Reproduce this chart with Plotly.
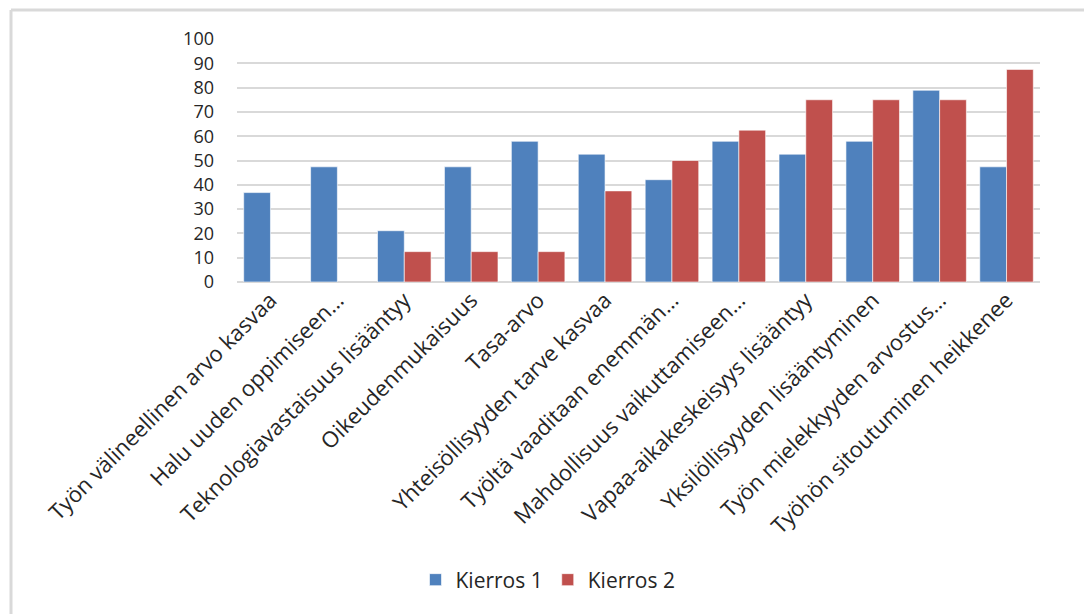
import plotly.graph_objects as go

categories = [
    "Työn välineellinen arvo kasvaa",
    "Halu uuden oppimiseen…",
    "Teknologiavastaisuus lisääntyy",
    "Oikeudenmukaisuus",
    "Tasa-arvo",
    "Yhteisöllisyyden tarve kasvaa",
    "Työltä vaaditaan enemmän…",
    "Mahdollisuus vaikuttamiseen…",
    "Vapaa-aikakeskeisyys lisääntyy",
    "Yksilöllisyyden lisääntyminen",
    "Työn mielekkyyden arvostus…",
    "Työhön sitoutuminen heikkenee",
]
kierros1 = [36.8, 47.4, 21.1, 47.4, 57.9, 52.6, 42.1, 57.9, 52.6, 57.9, 78.9, 47.4]
kierros2 = [None, None, 12.5, 12.5, 12.5, 37.5, 50.0, 62.5, 75.0, 75.0, 75.0, 87.5]
y_ticks = list(range(0, 101, 10))

FONT = "Open Sans"
W, H = 1084, 614
L, R, T, B = 237, 44, 39, 332
pw, ph = W - L - R, H - T - B

fig = go.Figure()
fig.add_trace(go.Bar(name="Kierros 1", x=categories, y=kierros1,
                     marker=dict(color="#4F81BD", line=dict(color="rgba(255,255,255,0.6)", width=1))))
fig.add_trace(go.Bar(name="Kierros 2", x=categories, y=kierros2,
                     marker=dict(color="#C0504D", line=dict(color="rgba(255,255,255,0.6)", width=1))))

def px_x(x):
    return (x - L) / pw

def px_y(y):
    return (H - B - y) / ph

fig.update_layout(
    width=W, height=H,
    margin=dict(l=L, r=R, t=T, b=B, autoexpand=False),
    paper_bgcolor="white", plot_bgcolor="white",
    barmode="group", bargap=0.2, bargroupgap=0.0,
    font=dict(family=FONT, color="#262626"),
    legend=dict(orientation="h", x=px_x(548), xanchor="center",
                y=px_y(580), yanchor="middle",
                font=dict(family=FONT, size=21, color="#262626"),
                itemwidth=30, traceorder="normal"),
    xaxis=dict(tickangle=-45, tickfont=dict(family=FONT, size=22, color="#262626"),
               showline=False, ticks="", showgrid=False),
    yaxis=dict(range=[0, 100], tickvals=y_ticks, showgrid=True, gridcolor="#d9d9d9",
               gridwidth=2, zeroline=True, zerolinecolor="#d9d9d9", zerolinewidth=2,
               showline=False, ticks="", ticklabelstandoff=22,
               tickfont=dict(family=FONT, size=18, color="#262626")),
    shapes=[
        dict(type="line", xref="paper", yref="paper", x0=px_x(11), x1=px_x(W + 5),
             y0=px_y(10), y1=px_y(10), line=dict(color="#d9d9d9", width=3)),
        dict(type="line", xref="paper", yref="paper", x0=px_x(11), x1=px_x(11),
             y0=px_y(10), y1=px_y(H + 5), line=dict(color="#d9d9d9", width=3)),
    ],
)

fig.write_html("out.html")
